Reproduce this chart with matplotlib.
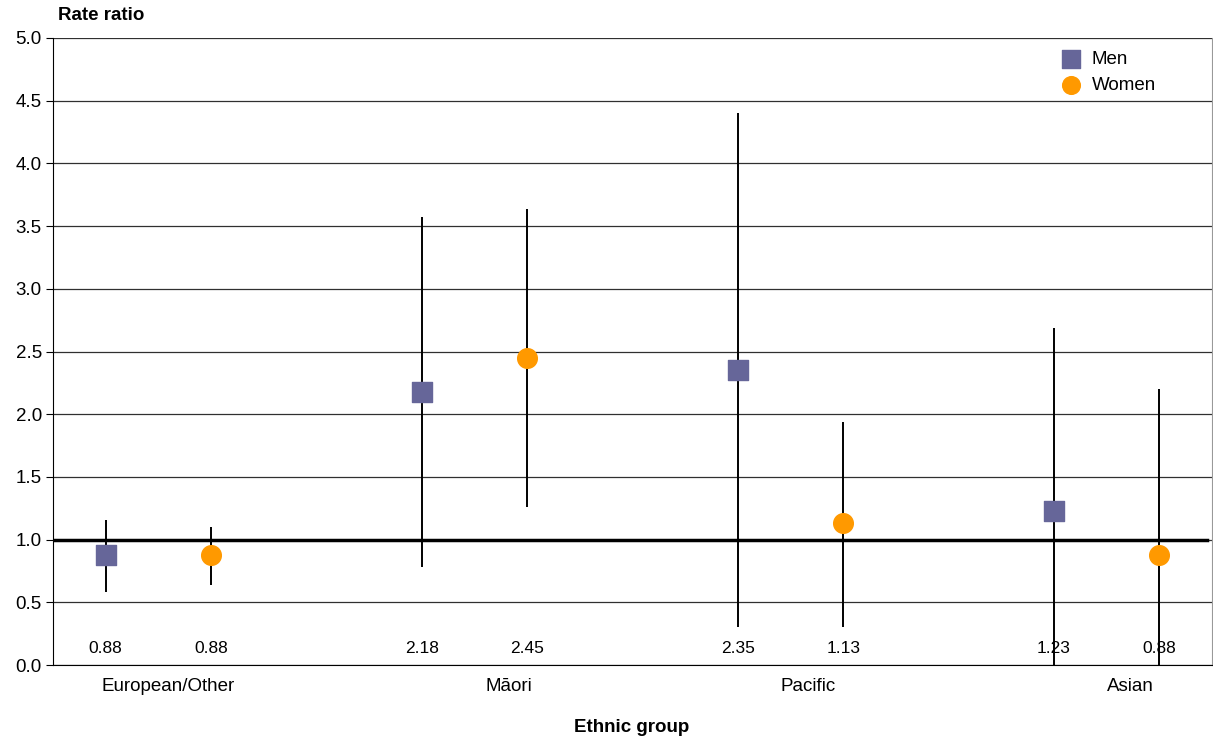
import matplotlib.pyplot as plt

plt.rcParams['font.family'] = ['Liberation Sans', 'DejaVu Sans']

# Dados
groups = ["European/Other", "Māori", "Pacific", "Asian"]
men_rr = [0.88, 2.18, 2.35, 1.23]
men_low = [0.58, 0.78, 0.30, 0.0]
men_high = [1.16, 3.57, 4.40, 2.69]
women_rr = [0.88, 2.45, 1.13, 0.88]
women_low = [0.64, 1.26, 0.30, 0.0]
women_high = [1.10, 3.64, 1.94, 2.20]
group_label_x = [1.09, 4.33, 7.17, 10.23]

men_x = [3 * i + 0.5 for i in range(len(groups))]
women_x = [3 * i + 1.5 for i in range(len(groups))]

fig = plt.figure(figsize=(12.13, 7.40), dpi=100)
ax = fig.add_axes([53 / 1213, 75 / 740, 1159 / 1213, 627 / 740])

ax.set_xlim(0, 11)
ax.set_ylim(0, 5)
ax.set_yticks([i * 0.5 for i in range(11)])
ax.set_yticklabels([f"{i * 0.5:.1f}" for i in range(11)], fontsize=13.5)
ax.set_xticks([])
ax.tick_params(axis='y', length=5, width=0.8, pad=3)
ax.grid(axis='y', color='#303030', linewidth=0.9)
ax.set_axisbelow(True)
ax.spines["right"].set_color('#999999')
ax.spines["left"].set_color('black')
ax.spines["bottom"].set_color('black')
ax.spines["top"].set_visible(False)

# linha de referencia
ax.axhline(1.0, xmin=0, xmax=0.996, color='black', linewidth=2.5, zorder=2)

# intervalos de confianca
ax.vlines(men_x, men_low, men_high, color='black', linewidth=1.4, zorder=3)
ax.vlines(women_x, women_low, women_high, color='black', linewidth=1.4, zorder=3)

ax.scatter(men_x, men_rr, marker='s', s=190, color='#666699', label='Men', zorder=4)
ax.scatter(women_x, women_rr, marker='o', s=200, color='#FF9900', label='Women', zorder=4)

for x, v in zip(men_x, men_rr):
    ax.text(x, 0.13, f"{v:.2f}", ha='center', va='center', fontsize=12.5, zorder=5)
for x, v in zip(women_x, women_rr):
    ax.text(x, 0.13, f"{v:.2f}", ha='center', va='center', fontsize=12.5, zorder=5)

for x, g in zip(group_label_x, groups):
    ax.text(x, -0.17, g, ha='center', va='center', fontsize=13.5)

ax.legend(loc='upper right', bbox_to_anchor=(0.963, 1.0), frameon=False, fontsize=13.5,
          handletextpad=0.1, labelspacing=0.45, markerscale=0.9, borderaxespad=0.3)

fig.text(58 / 1213, 1 - 15 / 740, "Rate ratio", fontsize=13.5, fontweight='bold', ha='left', va='center')
fig.text(632 / 1213, 1 - 728 / 740, "Ethnic group", fontsize=13.5, fontweight='bold', ha='center', va='center')

plt.savefig("out.png", dpi=100)
